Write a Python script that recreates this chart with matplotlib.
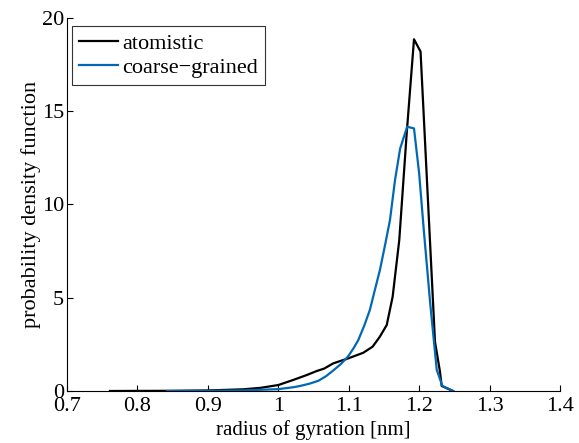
import matplotlib
matplotlib.use("Agg")
import matplotlib.pyplot as plt

plt.rcParams['font.family'] = ['Liberation Serif', 'DejaVu Serif']
plt.rcParams['mathtext.fontset'] = 'stix'

atom_x = [0.761, 0.80, 0.85, 0.90, 0.95, 0.975, 1.0, 1.021, 1.04, 1.0545, 1.065, 1.078,
          1.089, 1.0994, 1.11, 1.1207, 1.134, 1.144, 1.154, 1.1624, 1.1718, 1.1823,
          1.1927, 1.202, 1.2225, 1.2296, 1.232, 1.248]
atom_y = [0.0, 0.005, 0.01, 0.03, 0.09, 0.17, 0.32, 0.59, 0.85, 1.07, 1.2, 1.48,
          1.62, 1.75, 1.9, 2.05, 2.38, 2.9, 3.54, 5.06, 8.1, 13.8,
          18.86, 18.2, 2.64, 1.03, 0.27, 0.0]

cg_x = [0.842, 0.90, 0.95, 1.0, 1.021, 1.031, 1.045, 1.057, 1.068, 1.078, 1.089, 1.099,
        1.107, 1.1136, 1.122, 1.13, 1.137, 1.1444, 1.152, 1.1586, 1.1657, 1.173,
        1.183, 1.1927, 1.2, 1.207, 1.2157, 1.225, 1.233, 1.2485]
cg_y = [0.0, 0.01, 0.03, 0.1, 0.2, 0.27, 0.4, 0.55, 0.8, 1.1, 1.45, 1.85,
        2.3, 2.73, 3.5, 4.34, 5.4, 6.5, 7.9, 9.17, 11.3, 13.0,
        14.17, 14.08, 11.67, 8.45, 4.7, 1.13, 0.27, 0.0]

labels = ['atomistic', 'coarse\u2212grained']
xticks = [0.7, 0.8, 0.9, 1.0, 1.1, 1.2, 1.3, 1.4]
xticklabels = ['0.7', '0.8', '0.9', '1', '1.1', '1.2', '1.3', '1.4']
yticks = [0, 5, 10, 15, 20]

fig = plt.figure(figsize=(5.79, 4.43), dpi=100)
ax = fig.add_axes([67/579, 1 - 391/443, (560-67)/579, (391-18)/443])

ax.plot(atom_x, atom_y, color='black', lw=1.6, label=labels[0])
ax.plot(cg_x, cg_y, color='#0068B4', lw=1.6, label=labels[1])

ax.set_xlim(0.7, 1.4)
ax.set_ylim(0, 20)
ax.set_xticks(xticks)
ax.set_xticklabels(xticklabels)
ax.set_yticks(yticks)
ax.spines['top'].set_visible(False)
ax.spines['right'].set_visible(False)
for s in ['left', 'bottom']:
    ax.spines[s].set_linewidth(0.8)
ax.tick_params(direction='in', length=4, width=0.8, labelsize=16)
ax.tick_params(axis='x', pad=4)
ax.tick_params(axis='y', pad=2)
ax.set_xlabel('radius of gyration [nm]', fontsize=15, labelpad=3)
ax.set_ylabel('probability density function', fontsize=16, labelpad=1)

leg = ax.legend(loc='upper left', bbox_to_anchor=(0.0095, 0.9786), fontsize=16,
                frameon=True, fancybox=False, edgecolor='black', borderpad=0.32,
                handlelength=1.75, handletextpad=0.2, labelspacing=0.17,
                borderaxespad=0.0)
leg.get_frame().set_linewidth(0.8)

fig.savefig('out.png', dpi=100)
